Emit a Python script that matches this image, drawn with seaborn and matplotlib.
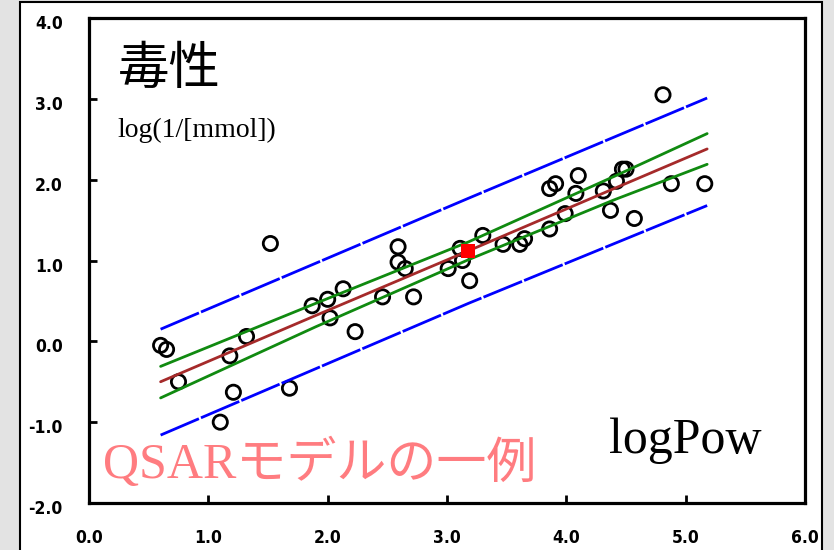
import matplotlib
matplotlib.use("Agg")
import matplotlib.pyplot as plt
import matplotlib.patches as mpatches
from matplotlib.transforms import ScaledTranslation
import seaborn as sns

# observed points (logPow, toxicity log(1/[mmol]))
log_pow = [0.60, 0.65, 0.75, 1.10, 1.18, 1.21, 1.32, 1.52, 1.68, 1.87,
           2.00, 2.02, 2.13, 2.23, 2.46, 2.59, 2.59, 2.65, 2.72, 3.01,
           3.11, 3.13, 3.19, 3.30, 3.47, 3.61, 3.65, 3.86, 3.99, 3.86,
           3.91, 4.10, 4.08, 4.31, 4.37, 4.42, 4.47, 4.50, 4.57, 4.81,
           4.88, 5.16]
toxicity = [-0.05, -0.10, -0.50, -1.00, -0.18, -0.63, 0.06, 1.21, -0.58, 0.44,
            0.52, 0.29, 0.65, 0.12, 0.55, 1.17, 0.98, 0.90, 0.55, 0.90,
            1.15, 1.00, 0.75, 1.31, 1.20, 1.20, 1.27, 1.39, 1.58, 1.89,
            1.95, 2.05, 1.83, 1.86, 1.62, 1.98, 2.13, 2.13, 1.52, 3.05,
            1.95, 1.95]

# mean point
mean_x = [3.18]
mean_y = [1.12]

# fitted line and bands
line_x = [0.60, 1.90, 3.18, 4.40, 5.18]
fit_y = [-0.50, 0.32, 1.12, 1.89, 2.38]
conf_hi = [-0.31, 0.47, 1.23, 2.04, 2.57]
conf_lo = [-0.70, 0.18, 1.01, 1.75, 2.19]
pred_x = [0.60, 3.18, 5.18]
pred_hi = [0.15, 1.77, 3.01]
pred_lo = [-1.16, 0.47, 1.68]

ticks = [0.0, 1.0, 2.0, 3.0, 4.0, 5.0, 6.0]
yticks = [-2.0, -1.0, 0.0, 1.0, 2.0, 3.0, 4.0]

sns.set_style("ticks")
plt.rcParams['font.family'] = ['DejaVu Sans', 'Noto Sans CJK JP']

fig = plt.figure(figsize=(8.34, 5.5), dpi=100, facecolor='#e3e3e3')
fig.patches.append(mpatches.Rectangle((20 / 834, -0.02), 802 / 834, 1.02 - 2 / 550,
                                      transform=fig.transFigure, facecolor='white',
                                      edgecolor='black', linewidth=1.5, zorder=-10))

ax = fig.add_axes([89 / 834, 47 / 550, 716 / 834, 485 / 550])
ax.set_facecolor('white')

sns.scatterplot(x=log_pow, y=toxicity, ax=ax, marker='o', s=105,
                facecolor='none', edgecolor='black', linewidth=2, zorder=2)

sns.lineplot(x=line_x, y=fit_y, ax=ax, color='#a52a2a', linewidth=2, zorder=3)
sns.lineplot(x=line_x, y=conf_hi, ax=ax, color='#108a10', linewidth=2, zorder=3)
sns.lineplot(x=line_x, y=conf_lo, ax=ax, color='#108a10', linewidth=2, zorder=3)
sns.lineplot(x=pred_x, y=pred_hi, ax=ax, color='#0000ff', linewidth=2,
             linestyle=(0, (15, 0.8)), zorder=3)
sns.lineplot(x=pred_x, y=pred_lo, ax=ax, color='#0000ff', linewidth=2,
             linestyle=(0, (15, 0.8)), zorder=3)

sns.scatterplot(x=mean_x, y=mean_y, ax=ax, marker='s', s=110, color='red',
                linewidth=0, zorder=4)

ax.set_xlim(0, 6)
ax.set_ylim(-2, 4)
ax.set_xticks(ticks)
ax.set_xticklabels([f"{t:.1f}" for t in ticks], fontweight='bold', fontstretch='condensed')
ax.set_yticks(yticks)
ax.set_yticklabels([f"{t:.1f}" for t in yticks], fontweight='bold', fontstretch='condensed')
ax.tick_params(direction='in', length=6, width=2, labelsize=12.5, pad=19, colors='black')
for lab in ax.get_yticklabels():
    lab.set_transform(lab.get_transform() + ScaledTranslation(0, -0.04, fig.dpi_scale_trans))
for sp in ax.spines.values():
    sp.set_linewidth(2.3)
    sp.set_color('black')
    sp.set_visible(True)
ax.set_xlabel('')
ax.set_ylabel('')

ax.text(0.24, 3.19, '毒性', fontsize=37, family=['Noto Sans CJK JP'],
        va='baseline', ha='left', color='black')
ax.text(0.235, 2.53, 'log(1/[mmol])', fontsize=20, family=['Liberation Serif'],
        va='baseline', ha='left', color='black')
ax.text(4.36, -1.38, 'logPow', fontsize=36, family=['Liberation Serif'],
        va='baseline', ha='left', color='black')
ax.text(0.117, -1.69, 'QSARモデルの一例', fontsize=36,
        family=['Liberation Serif', 'Noto Sans CJK JP'],
        va='baseline', ha='left', color='#ff7c80')

fig.savefig('out.png', dpi=100, facecolor=fig.get_facecolor())
